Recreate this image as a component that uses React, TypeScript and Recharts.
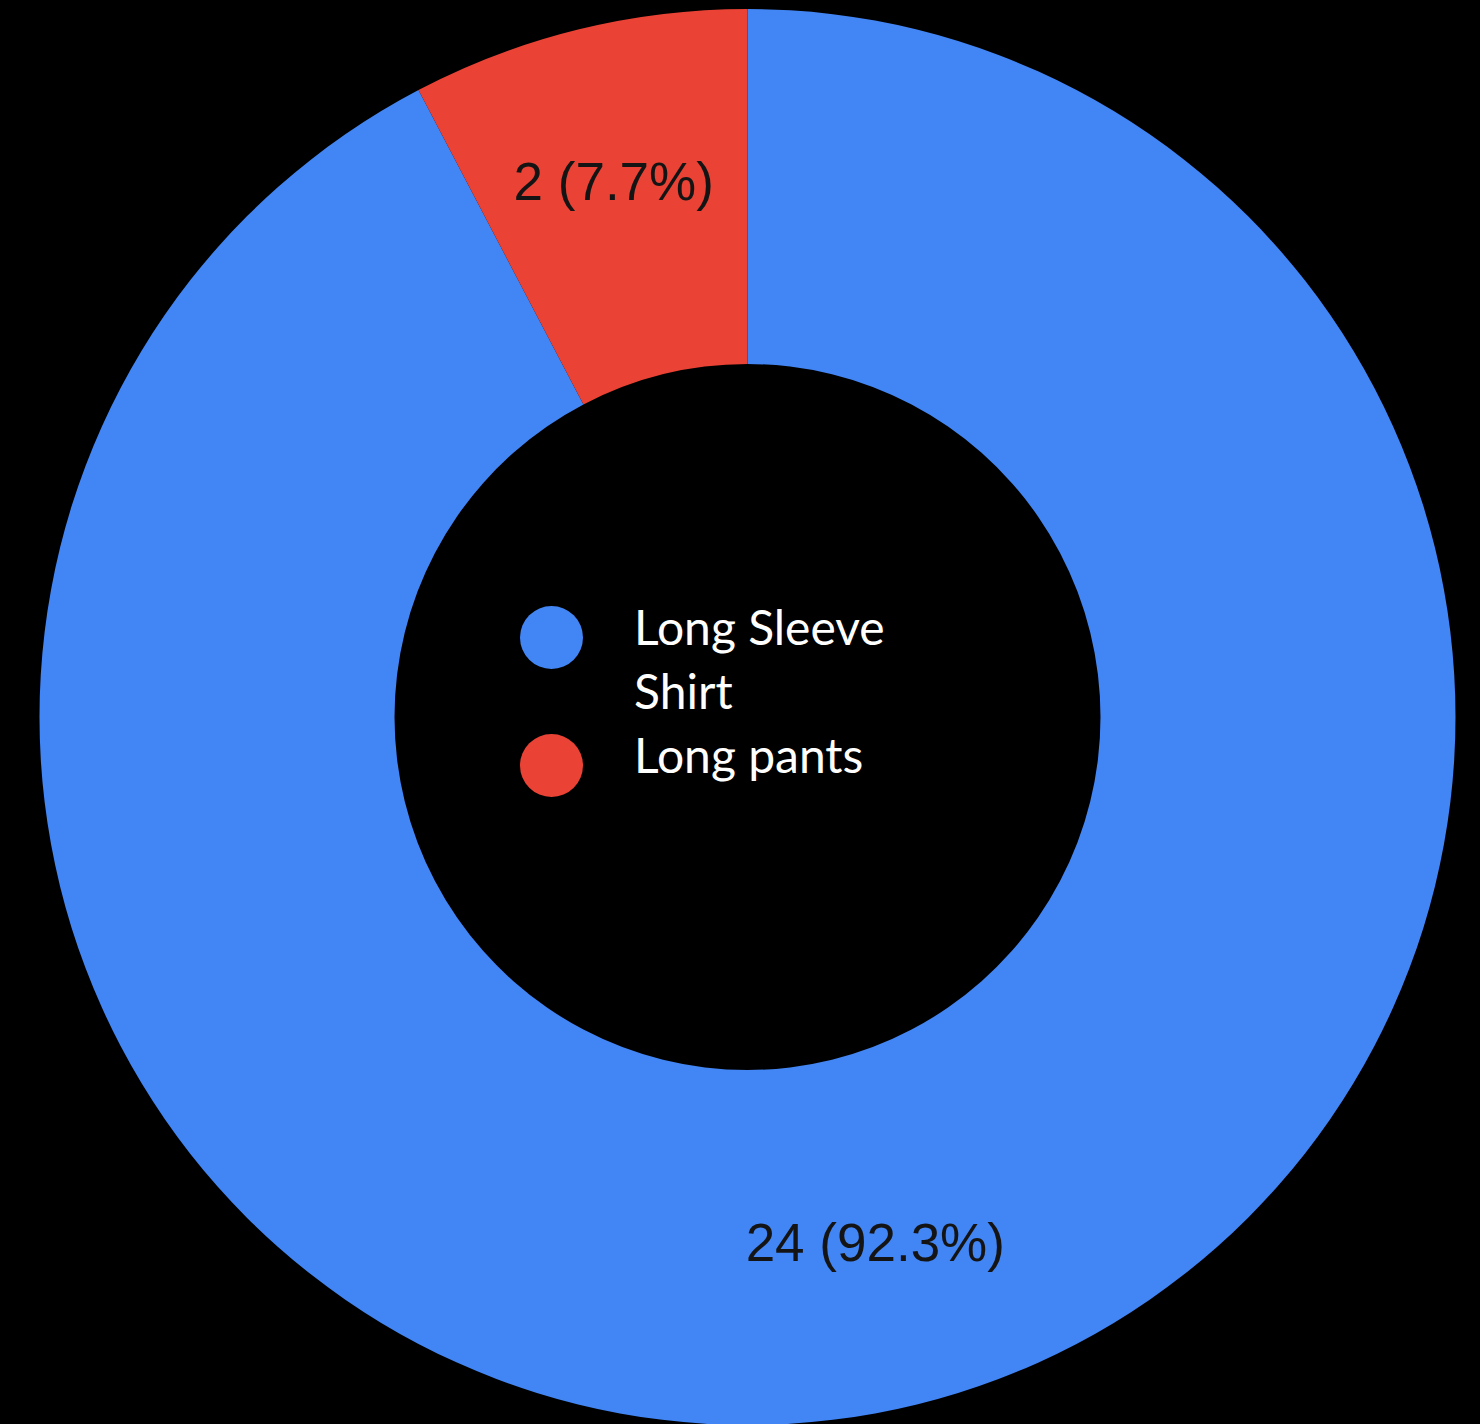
import React from "react";
import { PieChart, Pie, Cell, Legend } from "recharts";

const categories = ["Long Sleeve Shirt", "Long pants"];
const values = [24, 2];
const colors = ["#4285F4", "#EA4335"];

const data = categories.map((name, i) => ({ name, value: values[i] }));

const RADIAN = Math.PI / 180;

const renderLabel = (props: any) => {
  const { cx, cy, midAngle, innerRadius, outerRadius, value, percent } = props;
  const r = innerRadius + (outerRadius - innerRadius) * 0.545;
  const x = cx + r * Math.cos(-midAngle * RADIAN) - 3;
  const y = cy + r * Math.sin(-midAngle * RADIAN) - 5;
  return (
    <text
      x={x}
      y={y}
      fill="#141414"
      textAnchor="middle"
      dominantBaseline="central"
      style={{ fontFamily: "'Liberation Sans', Arial, sans-serif", fontSize: 53 }}
    >
      {`${value} (${(percent * 100).toFixed(1)}%)`}
    </text>
  );
};

const renderLegend = (props: any) => {
  const { payload } = props;
  return (
    <div style={{ fontFamily: "Lato, 'Open Sans', sans-serif", fontSize: 48, lineHeight: "64px", color: "#ffffff" }}>
      {(payload || []).map((entry: any, i: number) => (
        <div key={i} style={{ display: "flex", alignItems: "flex-start" }}>
          <div
            style={{
              width: 63,
              height: 63,
              borderRadius: "50%",
              background: entry.color,
              marginTop: 11,
              flexShrink: 0,
            }}
          />
          <div style={{ marginLeft: 51, width: 285 }}>{entry.value}</div>
        </div>
      ))}
    </div>
  );
};

export default function App() {
  return (
    <div style={{ position: "fixed", left: 0, top: 0, width: 1480, height: 1424, background: "#000000", overflow: "hidden" }}>
      <PieChart width={1480} height={1424} margin={{ top: 0, right: 0, bottom: 0, left: 0 }}>
        <Pie
          data={data}
          dataKey="value"
          nameKey="name"
          cx={747.5}
          cy={717}
          innerRadius={353}
          outerRadius={708}
          startAngle={90}
          endAngle={-270}
          stroke="none"
          label={renderLabel}
          labelLine={false}
          isAnimationActive={false}
        >
          {data.map((d, i) => (
            <Cell key={d.name} fill={colors[i]} />
          ))}
        </Pie>
        <Legend
          content={renderLegend}
          layout="vertical"
          wrapperStyle={{ position: "absolute", left: 520, top: 595, width: 420, bottom: "auto", right: "auto" }}
        />
      </PieChart>
    </div>
  );
}
